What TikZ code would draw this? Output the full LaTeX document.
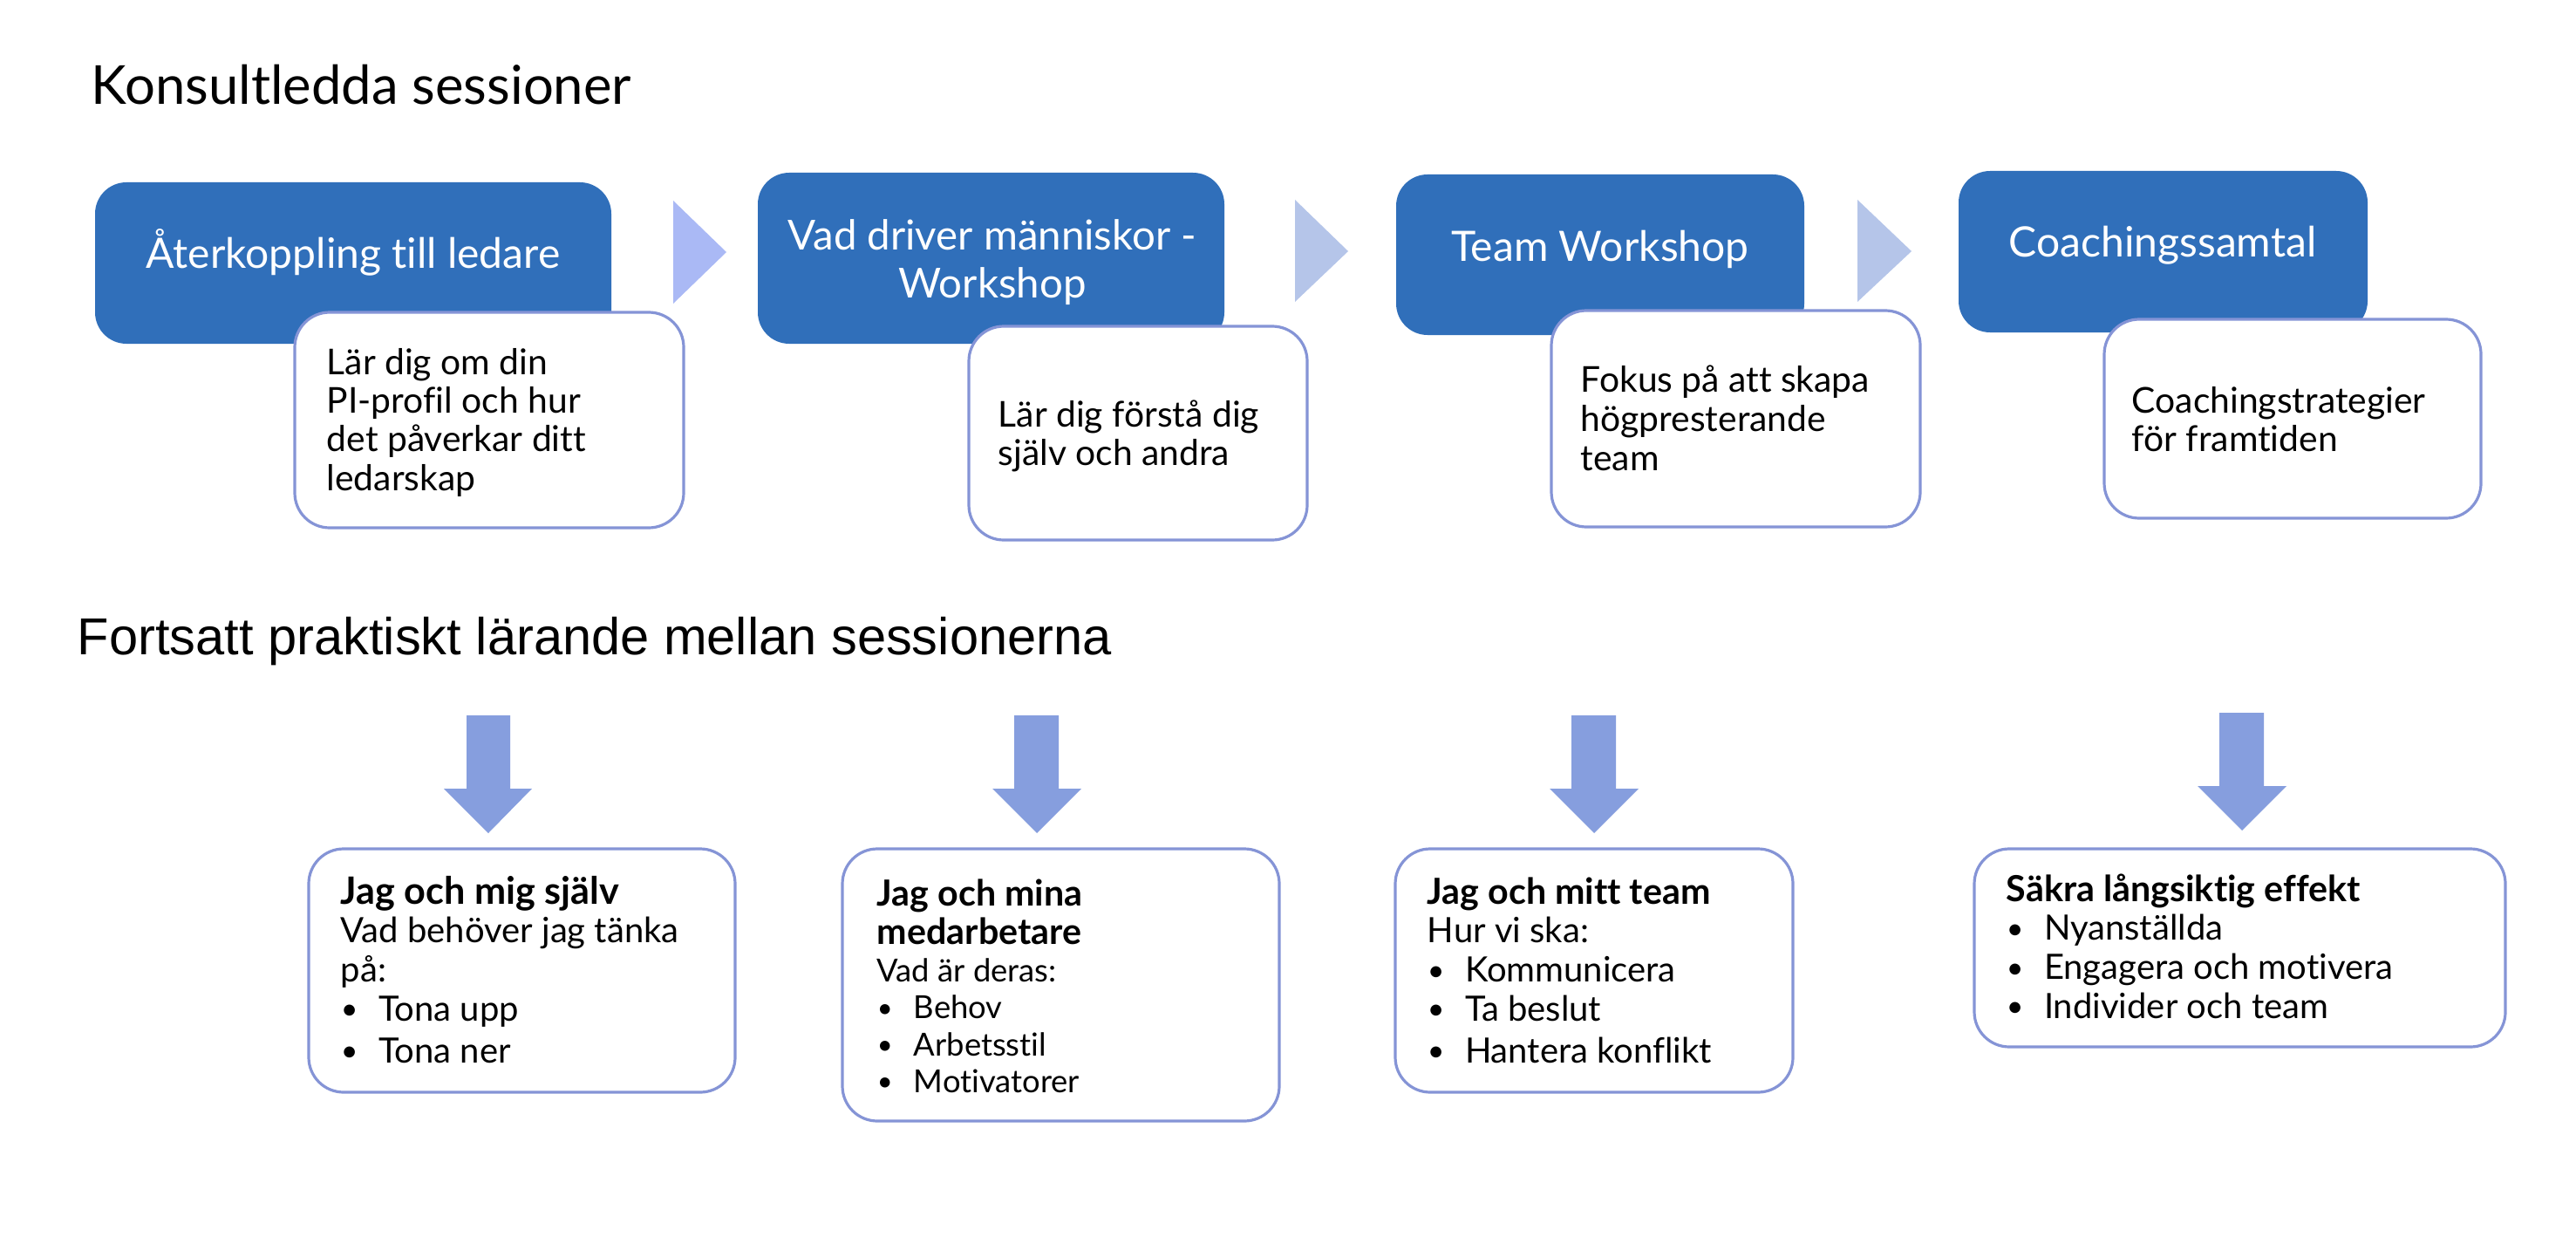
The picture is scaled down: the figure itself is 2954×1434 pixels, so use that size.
\documentclass[tikz,border=0pt]{standalone}
\usepackage{fontspec}
\setmainfont{Lato}[Ligatures=NoCommon]
\newfontfamily\arialfont{Liberation Sans}
\usetikzlibrary{calc}
\definecolor{boxblue}{RGB}{48,111,186}
\definecolor{chevA}{RGB}{170,185,245}
\definecolor{chevB}{RGB}{181,197,233}
\definecolor{arrowblue}{RGB}{134,158,222}
\definecolor{edgeblue}{RGB}{133,148,214}
\newcommand\bul[2][10.8pt]{\makebox[#1][l]{\raisebox{0.4pt}{\scalebox{0.85}{•}}}#2}
\newcommand\lines[2]{\parbox[t]{#1}{\raggedright #2}}
\newcommand\clines[2]{\parbox[t]{#1}{\centering #2}}
\begin{document}
\begin{tikzpicture}[x=0.25pt,y=-0.25pt,
  bluebox/.style={fill=boxblue, rounded corners=9pt, inner sep=0pt},
  whitebox/.style={draw=edgeblue, line width=0.8pt, fill=white, rounded corners=10pt, inner sep=0pt},
  bluelbl/.style={text=white, inner sep=0pt, anchor=base, font=\fontsize{12}{13.75}\selectfont},
  toplbl/.style={inner sep=0pt, anchor=base west, font=\fontsize{10.2}{11.1}\selectfont},
  botlbl/.style={inner sep=0pt, anchor=base west, font=\fontsize{10}{11.2}\selectfont},
  titlelbl/.style={inner sep=0pt, anchor=base west},
  downarrow/.style={fill=arrowblue, draw=none}
]
\useasboundingbox (0,0) rectangle (2954,1434);
\fill[white] (0,0) rectangle (2954,1434);

% titles
\node[titlelbl, font=\fontsize{15.4}{18}\selectfont] (t1) at (104,120) {Konsultledda sessioner};
\node[titlelbl, font=\arialfont\fontsize{14.9}{18}\selectfont] (t2) at (88,750) {Fortsatt praktiskt lärande mellan sessionerna};

% chevrons
\fill[chevA] (772,230) -- (833,289) -- (772,348) -- cycle;
\fill[chevB] (1485,229) -- (1546,288) -- (1485,346) -- cycle;
\fill[chevB] (2130,229) -- (2192,288) -- (2130,346) -- cycle;

% blue session boxes
\node[bluebox, minimum width=148pt, minimum height=46.25pt] (b1) at (405,301.5) {};
\node[bluebox, minimum width=133.75pt, minimum height=49pt] (b2) at (1136.5,296) {};
\node[bluebox, minimum width=117pt, minimum height=46pt] (b3) at (1835,292) {};
\node[bluebox, minimum width=117.25pt, minimum height=46.25pt] (b4) at (2480.5,288.5) {};

\node[bluelbl] (b1t) at (405,308) {Återkoppling till ledare};
\node[bluelbl, font=\fontsize{11.85}{13.75}\selectfont] (b2t) at (1138,286) {\clines{140pt}{Vad driver människor -\\Workshop}};
\node[bluelbl] (b3t) at (1835,299) {Team Workshop};
\node[bluelbl] (b4t) at (2480,295) {Coachingssamtal};

% white description boxes
\node[whitebox, minimum width=111.5pt, minimum height=61.75pt] (w1) at (561,481.5) {};
\node[whitebox, minimum width=97pt, minimum height=61.25pt] (w2) at (1305,496.5) {};
\node[whitebox, minimum width=105.75pt, minimum height=62pt] (w3) at (1990.5,480) {};
\node[whitebox, minimum width=108pt, minimum height=57pt] (w4) at (2629,480) {};

\node[toplbl] (w1t) at (374,429) {\lines{100pt}{Lär dig om din\\PI-profil och hur\\det påverkar ditt\\ledarskap}};
\node[toplbl] (w2t) at (1144,489) {\lines{90pt}{Lär dig förstå dig\\själv och andra}};
\node[toplbl, font=\fontsize{10.2}{11.25}\selectfont] (w3t) at (1812,449) {\lines{95pt}{Fokus på att skapa\\högpresterande\\team}};
\node[toplbl] (w4t) at (2444,473) {\lines{95pt}{Coachingstrategier\\för framtiden}};

% down arrows
\fill[downarrow] (535,820) -- (585,820) -- (585,904) -- (610,904) -- (560,955) -- (509,904) -- (535,904) -- cycle;
\fill[downarrow] (1163,820) -- (1214,820) -- (1214,904) -- (1240,904) -- (1189,955) -- (1138,904) -- (1163,904) -- cycle;
\fill[downarrow] (1802,820) -- (1853,820) -- (1853,904) -- (1879,904) -- (1828,955) -- (1777,904) -- (1802,904) -- cycle;
\fill[downarrow] (2545,817) -- (2596,817) -- (2596,901) -- (2622,901) -- (2571,952) -- (2520,901) -- (2545,901) -- cycle;

% bottom boxes
\node[whitebox, minimum width=122.25pt, minimum height=69.75pt] (p1) at (598.5,1112.5) {};
\node[whitebox, minimum width=125.25pt, minimum height=78pt] (p2) at (1216.5,1129) {};
\node[whitebox, minimum width=114pt, minimum height=69.75pt] (p3) at (1828,1112.5) {};
\node[whitebox, minimum width=152.25pt, minimum height=56.75pt] (p4) at (2568.5,1086.5) {};

\node[botlbl] (p1t) at (390,1036) {\lines{115pt}{{\bfseries\fontsize{10.8}{11.2}\selectfont Jag och mig själv}\\Vad behöver jag tänka\\på:\\\bul{Tona upp}\\[0.7pt]\bul{Tona ner}}};
\node[botlbl, font=\fontsize{9.1}{10.6}\selectfont] (p2t) at (1005,1038) {\lines{115pt}{{\bfseries\fontsize{10.3}{11.2}\selectfont Jag och mina}\\[0.6pt]{\bfseries\fontsize{10.3}{11.2}\selectfont medarbetare}\\Vad är deras:\\\bul[10.5pt]{Behov}\\\bul[10.5pt]{Arbetsstil}\\\bul[10.5pt]{Motivatorer}}};
\node[botlbl] (p3t) at (1636,1036) {\lines{110pt}{{\bfseries\fontsize{10.3}{11.2}\selectfont Jag och mitt team}\\Hur vi ska:\\\bul{Kommunicera}\\\bul{Ta beslut}\\[0.7pt]\bul{Hantera konflikt}}};
\node[botlbl] (p4t) at (2300,1033) {\lines{145pt}{{\bfseries\fontsize{10.3}{11}\selectfont Säkra långsiktig effekt}\\\bul{Nyanställda}\\\bul{Engagera och motivera}\\\bul{Individer och team}}};
\end{tikzpicture}
\end{document}
